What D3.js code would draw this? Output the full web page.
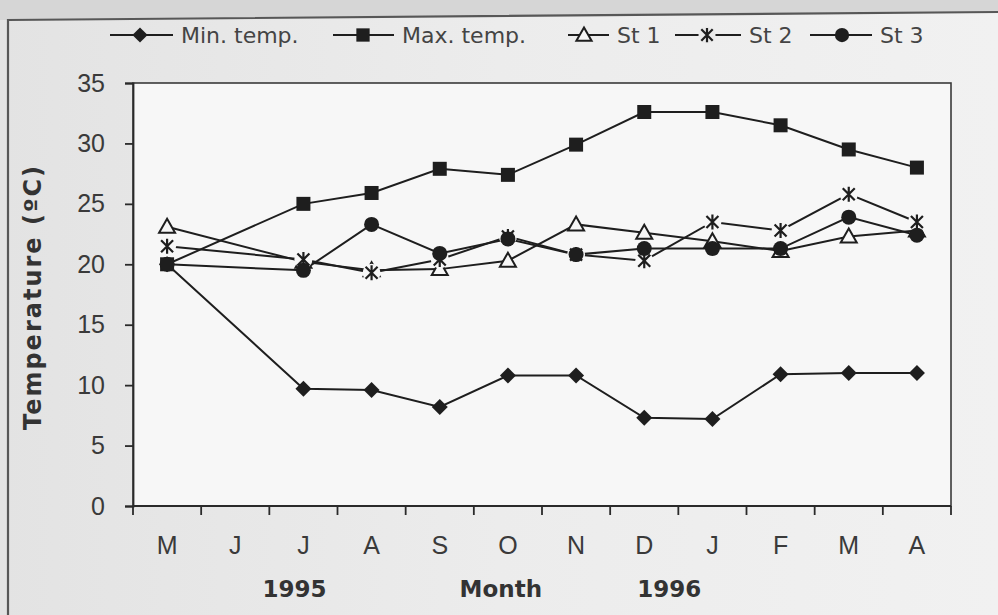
<!DOCTYPE html>
<html>
<head>
<meta charset="utf-8">
<script src="https://cdn.jsdelivr.net/npm/d3@7"></script>
<style>
  html, body { margin: 0; padding: 0; background: #e8e8e8; }
  svg { display: block; }
</style>
</head>
<body>
<svg id="chart" width="998" height="615"></svg>
<script>
// Monthly water temperatures, May 1995 – April 1996 (no June sample)
const months = ["M", "J", "J", "A", "S", "O", "N", "D", "J", "F", "M", "A"];
const yTicks = [0, 5, 10, 15, 20, 25, 30, 35];
const yearLabels = ["1995", "1996"];

const minTemp = [20.0, null, 9.7, 9.6, 8.2, 10.8, 10.8, 7.3, 7.2, 10.9, 11.0, 11.0];
const maxTemp = [20.0, null, 25.0, 25.9, 27.9, 27.4, 29.9, 32.6, 32.6, 31.5, 29.5, 28.0];
const st1 = [23.1, null, 20.2, 19.5, 19.6, 20.3, 23.3, 22.6, 21.9, 21.1, 22.3, 22.8];
const st2 = [21.5, null, 20.4, 19.3, 20.4, 22.3, 20.8, 20.3, 23.5, 22.8, 25.8, 23.5];
const st3 = [20.0, null, 19.5, 23.3, 20.9, 22.1, 20.8, 21.3, 21.3, 21.3, 23.9, 22.4];

const series = [
  { name: "Min. temp.", values: minTemp, marker: "diamond" },
  { name: "Max. temp.", values: maxTemp, marker: "square" },
  { name: "St 1", values: st1, marker: "triangle" },
  { name: "St 2", values: st2, marker: "asterisk" },
  { name: "St 3", values: st3, marker: "circle" }
];

const W = 998, H = 615;
const margin = { left: 133, right: 47, top: 83, bottom: 108 };
const ink = "#1e1e1e";
const plotFill = "#f7f7f7";

const svg = d3.select("#chart");

// paper background with a soft left-to-right shading
const defs = svg.append("defs");
const grad = defs.append("linearGradient").attr("id", "paper")
  .attr("x1", "0").attr("x2", "1").attr("y1", "0").attr("y2", "0");
grad.append("stop").attr("offset", "0").attr("stop-color", "#e3e3e3");
grad.append("stop").attr("offset", "0.5").attr("stop-color", "#ececec");
grad.append("stop").attr("offset", "1").attr("stop-color", "#f1f1f1");
svg.append("rect").attr("width", W).attr("height", H).attr("fill", "url(#paper)");

// strip beyond the chart frame at the very top
svg.append("path")
  .attr("d", `M0,0 H${W} V12 L8,20 H0 Z`)
  .attr("fill", "#d6d6d6");
// chart frame edges (top and left)
svg.append("path")
  .attr("d", `M8,${H} V20 L${W},12`)
  .attr("fill", "none").attr("stroke", "#575757").attr("stroke-width", 2.2);

const x = d3.scaleBand()
  .domain(d3.range(months.length))
  .range([margin.left, W - margin.right])
  .padding(0);
const y = d3.scaleLinear()
  .domain([0, 35])
  .range([H - margin.bottom - 1, margin.top]);

const cx = i => x(i) + x.bandwidth() / 2;

// plot area
svg.append("rect")
  .attr("x", x.range()[0]).attr("y", y(35))
  .attr("width", x.range()[1] - x.range()[0])
  .attr("height", y(0) - y(35))
  .attr("fill", plotFill)
  .attr("stroke", "#3a3a3a").attr("stroke-width", 1.6);

// y axis
const yAxis = svg.append("g")
  .attr("transform", `translate(${x.range()[0]},0)`)
  .call(d3.axisLeft(y).tickValues(yTicks).tickSize(8).tickPadding(20));
yAxis.select(".domain").attr("stroke", "#2a2a2a").attr("stroke-width", 1.8);
yAxis.selectAll(".tick line").attr("stroke", "#2a2a2a").attr("stroke-width", 1.8);
yAxis.selectAll(".tick text")
  .attr("font-family", "'Liberation Sans', Arial, sans-serif")
  .attr("font-size", 25).attr("fill", "#3a3a3a");

// x axis: ticks sit on month boundaries, labels in the middle of each month
const boundaries = d3.range(months.length + 1);
const bx = k => k < months.length ? x(k) : x.range()[1];
const xAxis = svg.append("g");
xAxis.append("line")
  .attr("x1", x.range()[0]).attr("x2", x.range()[1])
  .attr("y1", y(0)).attr("y2", y(0))
  .attr("stroke", "#2a2a2a").attr("stroke-width", 1.8);
xAxis.selectAll("line.tick").data(boundaries).join("line")
  .attr("class", "tick")
  .attr("x1", bx).attr("x2", bx)
  .attr("y1", y(0)).attr("y2", y(0) + 9)
  .attr("stroke", "#2a2a2a").attr("stroke-width", 1.8);
xAxis.selectAll("text.month").data(months).join("text")
  .attr("class", "month")
  .attr("x", (d, i) => cx(i))
  .attr("y", y(0) + 48)
  .attr("text-anchor", "middle")
  .attr("font-family", "'Liberation Sans', Arial, sans-serif")
  .attr("font-size", 25).attr("fill", "#3a3a3a")
  .text(d => d);

// year markers and axis titles
const boldFont = "'DejaVu Sans', Verdana, sans-serif";
svg.append("text")
  .attr("x", cx(2) - 9).attr("y", y(0) + 91)
  .attr("text-anchor", "middle")
  .attr("font-family", boldFont).attr("font-weight", "bold")
  .attr("font-size", 23).attr("fill", "#333")
  .text(yearLabels[0]);
svg.append("text")
  .attr("x", cx(7) + 25).attr("y", y(0) + 91)
  .attr("text-anchor", "middle")
  .attr("font-family", boldFont).attr("font-weight", "bold")
  .attr("font-size", 23).attr("fill", "#333")
  .text(yearLabels[1]);
svg.append("text")
  .attr("x", bx(5) + 27).attr("y", y(0) + 91)
  .attr("text-anchor", "middle")
  .attr("font-family", boldFont).attr("font-weight", "bold")
  .attr("font-size", 23).attr("fill", "#333")
  .text("Month");
svg.append("text")
  .attr("transform", `translate(41,297) rotate(-90)`)
  .attr("text-anchor", "middle")
  .attr("font-family", boldFont).attr("font-weight", "bold")
  .attr("font-size", 24).attr("letter-spacing", 2).attr("fill", "#333")
  .text("Temperature (ºC)");

// marker drawing
function drawMarker(g, type, px, py, scale = 1) {
  const s = scale;
  if (type === "diamond") {
    g.append("path")
      .attr("d", `M${px},${py - 8 * s} L${px + 8 * s},${py} L${px},${py + 8 * s} L${px - 8 * s},${py} Z`)
      .attr("fill", ink);
  } else if (type === "square") {
    g.append("rect")
      .attr("x", px - 7 * s).attr("y", py - 7 * s)
      .attr("width", 14 * s).attr("height", 14 * s)
      .attr("fill", ink);
  } else if (type === "triangle") {
    g.append("path")
      .attr("d", `M${px},${py - 8 * s} L${px + 8 * s},${py + 6 * s} L${px - 8 * s},${py + 6 * s} Z`)
      .attr("fill", plotFill).attr("stroke", ink).attr("stroke-width", 2);
  } else if (type === "asterisk") {
    g.append("circle").attr("cx", px).attr("cy", py).attr("r", 9 * s).attr("fill", plotFill);
    const r = 7.5 * s;
    g.append("path")
      .attr("d", `M${px},${py - r} V${py + r} M${px - r * 0.8},${py - r * 0.8} L${px + r * 0.8},${py + r * 0.8} M${px + r * 0.8},${py - r * 0.8} L${px - r * 0.8},${py + r * 0.8}`)
      .attr("stroke", ink).attr("stroke-width", 2.2).attr("fill", "none");
  } else if (type === "circle") {
    g.append("circle").attr("cx", px).attr("cy", py).attr("r", 7.5 * s).attr("fill", ink);
  }
}

const line = d3.line().x(d => cx(d.i)).y(d => y(d.v));
const pts = s => s.values.map((v, i) => ({ i, v })).filter(d => d.v !== null);

// all lines first, then markers on top
const linesG = svg.append("g");
series.forEach(s => {
  linesG.append("path")
    .datum(pts(s))
    .attr("d", line)
    .attr("fill", "none")
    .attr("stroke", ink)
    .attr("stroke-width", 2);
});
const markersG = svg.append("g");
series.forEach(s => {
  pts(s).forEach(d => drawMarker(markersG, s.marker, cx(d.i), y(d.v)));
});

// legend
const legendY = 35;
const legendItems = [
  { lx: 110, mx: 140, tx: 181 },
  { lx: 333, mx: 363, tx: 402 },
  { lx: 568, mx: 584, tx: 617 },
  { lx: 675, mx: 707, tx: 749 },
  { lx: 810, mx: 842, tx: 880 }
];
const legendG = svg.append("g");
series.forEach((s, k) => {
  const it = legendItems[k];
  legendG.append("line")
    .attr("x1", it.lx).attr("x2", it.tx - 8)
    .attr("y1", legendY).attr("y2", legendY)
    .attr("stroke", ink).attr("stroke-width", 2);
  const g = legendG.append("g");
  drawMarker(g, s.marker, it.mx, legendY, 0.95);
  if (s.marker === "asterisk") {
    g.select("circle").attr("fill", "#eaeaea");
  }
  legendG.append("text")
    .attr("x", it.tx).attr("y", legendY + 8)
    .attr("font-family", "'DejaVu Sans', Verdana, sans-serif")
    .attr("font-size", 22).attr("fill", "#444")
    .text(s.name);
});
</script>
</body>
</html>
